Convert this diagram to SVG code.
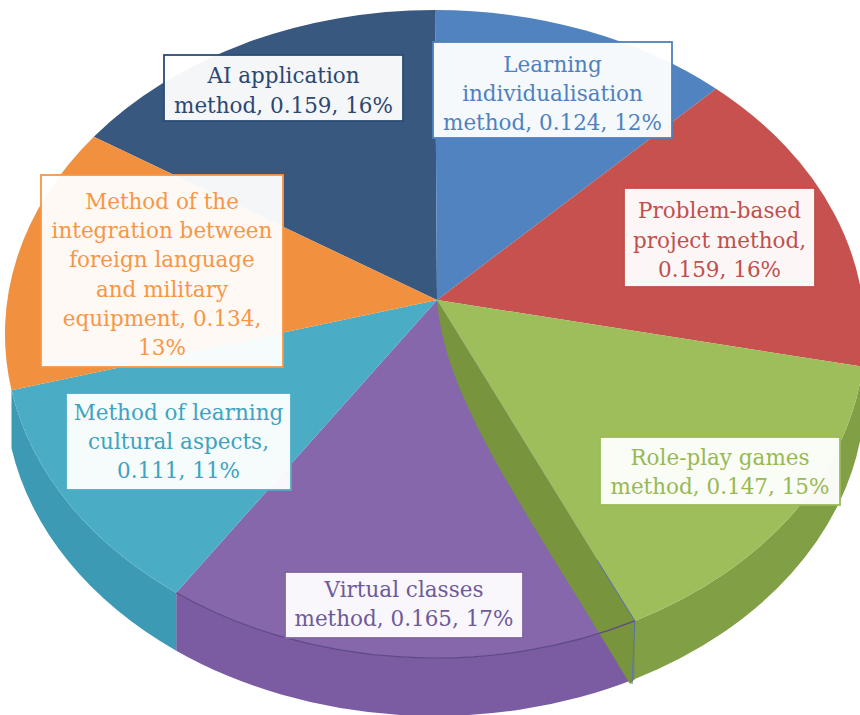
<svg xmlns="http://www.w3.org/2000/svg" width="860" height="715" viewBox="0 0 860 715">
<style>
.lbl{font-family:"DejaVu Serif","Liberation Serif",serif;font-size:21.5px;text-anchor:middle}
.box{fill:#ffffff;fill-opacity:0.95;stroke-width:1.8}
</style>
<rect width="860" height="715" fill="#ffffff"/>
<g id="pie">
  <g id="sides">
    <path d="M865,334 A430,324 0 0,1 862.8,366.7 L862.8,424.7 A430,324 0 0,0 865,392 Z" fill="#A8413E"/>
    <path d="M862.8,366.7 A430,324 0 0,1 634.9,620.9 L634.9,678.9 A430,324 0 0,0 862.8,424.7 Z" fill="#819F45"/>
    <path d="M634.9,620.9 A430,324 0 0,1 176.2,592.7 L176.2,650.7 A430,324 0 0,0 634.9,678.9 Z" fill="#7B5CA2"/>
    <path d="M176.2,592.7 A430,324 0 0,1 11.5,390.3 L11.5,448.3 A430,324 0 0,0 176.2,650.7 Z" fill="#3D9AB4"/>
  </g>
  <g id="slice-ai"><path d="M437,300 L93.8,136.7 A430,324 0 0,1 435,10 Z" fill="#38587F"/></g>
  <g id="slice-learning"><path d="M437,300 L435,10 A430,324 0 0,1 716,88.7 Z" fill="#5083C0"/></g>
  <g id="slice-problem"><path d="M437,300 L716,88.7 A430,324 0 0,1 862.8,366.7 Z" fill="#C6514E"/></g>
  <g id="slice-roleplay"><path d="M437,300 L862.8,366.7 A430,324 0 0,1 634.9,620.9 Z" fill="#9DBE5A"/></g>
  <g id="slice-virtual"><path d="M437,300 L634.9,620.9 A430,324 0 0,1 176.2,592.7 Z" fill="#8667AC"/></g>
  <g id="slice-cultural"><path d="M437,300 L176.2,592.7 A430,324 0 0,1 11.5,390.3 Z" fill="#4BACC6"/></g>
  <g id="slice-integration"><path d="M437,300 L11.5,390.3 A430,324 0 0,1 93.8,136.7 Z" fill="#F1913F"/></g>
  <g id="roleplay-face">
    <path d="M437,300 L634.9,620.9 L634.9,678.9 L630,684 C520,500 445,400 437,300 Z" fill="#78953D"/>
    <path d="M597,560 L634.9,620.9 L632,684" fill="none" stroke="#5a72b0" stroke-width="1"/>
  </g>
  <path d="M634.9,620.9 A430,324 0 0,1 176.2,592.7" fill="none" stroke="#5E4888" stroke-width="1.2"/>
</g>
<g id="label-ai">
  <rect class="box" x="164" y="55" width="239" height="66" stroke="#2C4D75"/>
  <text class="lbl" fill="#2C4770" x="283.5" y="83">AI application</text>
  <text class="lbl" fill="#2C4770" x="283.5" y="113">method, 0.159, 16%</text>
</g>
<g id="label-learning">
  <rect class="box" x="433" y="42" width="239" height="96" stroke="#4F81BD"/>
  <text class="lbl" fill="#4F81BD" x="552.5" y="71.5">Learning</text>
  <text class="lbl" fill="#4F81BD" x="552.5" y="100.5">individualisation</text>
  <text class="lbl" fill="#4F81BD" x="552.5" y="129.5">method, 0.124, 12%</text>
</g>
<g id="label-problem">
  <rect class="box" x="624" y="188" width="191" height="99" stroke="#C0504D"/>
  <text class="lbl" fill="#C0504D" x="719.5" y="218">Problem-based</text>
  <text class="lbl" fill="#C0504D" x="719.5" y="247.5">project method,</text>
  <text class="lbl" fill="#C0504D" x="719.5" y="277">0.159, 16%</text>
</g>
<g id="label-roleplay">
  <rect class="box" x="600" y="437" width="240" height="68" stroke="#9BBB59"/>
  <text class="lbl" fill="#98B954" x="720" y="465">Role-play games</text>
  <text class="lbl" fill="#98B954" x="720" y="493.5">method, 0.147, 15%</text>
</g>
<g id="label-virtual">
  <rect class="box" x="285" y="572" width="238" height="66" stroke="#8064A2"/>
  <text class="lbl" fill="#6E5A9A" x="404" y="597">Virtual classes</text>
  <text class="lbl" fill="#6E5A9A" x="404" y="626">method, 0.165, 17%</text>
</g>
<g id="label-cultural">
  <rect class="box" x="66" y="393" width="225" height="97" stroke="#4BACC6"/>
  <text class="lbl" fill="#3FA3C0" x="178.5" y="419.5">Method of learning</text>
  <text class="lbl" fill="#3FA3C0" x="178.5" y="448.5">cultural aspects,</text>
  <text class="lbl" fill="#3FA3C0" x="178.5" y="477.5">0.111, 11%</text>
</g>
<g id="label-integration">
  <rect class="box" x="41" y="175" width="242" height="192" stroke="#F79646"/>
  <text class="lbl" fill="#F79646" x="162" y="209">Method of the</text>
  <text class="lbl" fill="#F79646" x="162" y="238.2">integration between</text>
  <text class="lbl" fill="#F79646" x="162" y="267.4">foreign language</text>
  <text class="lbl" fill="#F79646" x="162" y="296.6">and military</text>
  <text class="lbl" fill="#F79646" x="162" y="325.8">equipment, 0.134,</text>
  <text class="lbl" fill="#F79646" x="162" y="355">13%</text>
</g>
</svg>
